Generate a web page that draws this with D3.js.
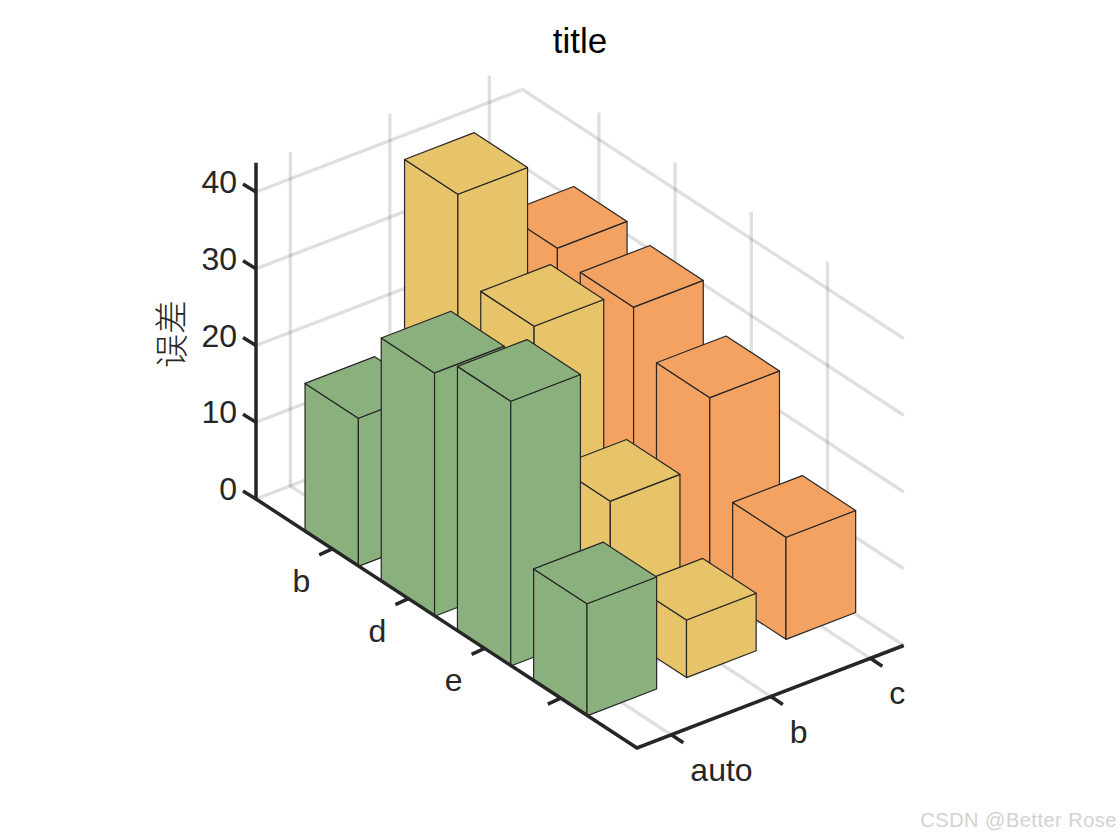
<!DOCTYPE html>
<html>
<head>
<meta charset="utf-8">
<script src="https://cdn.jsdelivr.net/npm/d3@7"></script>
<style>
  html, body { margin: 0; background: #fff; }
  text { font-family: "Liberation Sans", Arial, sans-serif; }
</style>
</head>
<body>
<div id="main-frame"></div>
<script>
const xLabels = ["auto", "b", "c"];
const yLabels = ["b", "d", "e", ""];
const zTicks = [0, 10, 20, 30, 40];

// one array per x category, front row last
const autoValues = [19.3, 31.7, 34.5, 14.6];
const bValues = [43.5, 32.8, 16.5, 7.5];
const cValues = [31.5, 30.3, 25, 13.3];
const seriesColors = ["#8AB17D", "#E7C469", "#F4A261"];

const barWidth = 0.7;
const xDomain = [0.655, 3.335];
const yDomain = [0, 5];
const zDomain = [0, 43.5];

const width = 1120;
const height = 840;
const inkColor = "#262626";

// oblique projection, each data axis moves the point in both screen directions
const xToH = d3.scaleLinear().domain(xDomain).range([0, 266.7]);
const xToV = d3.scaleLinear().domain(xDomain).range([0, -102.5]);
const yToH = d3.scaleLinear().domain(yDomain).range([0, 381]);
const yToV = d3.scaleLinear().domain(yDomain).range([0, 249]);
const zToV = d3.scaleLinear().domain([0, 40]).range([0, -307]);

const originX = 256;
const originY = 499;

const project = (x, y, z) => [
  originX + xToH(x) + yToH(y),
  originY + xToV(x) + yToV(y) + zToV(z)
];

const svg = d3.select("#main-frame")
  .append("svg")
  .attr("width", width)
  .attr("height", height);

const path = d3.line();

const drawLine = (parent, points, color, w, opacity) => parent.append("path")
  .attr("d", path(points))
  .attr("fill", "none")
  .attr("stroke", color)
  .attr("stroke-width", w)
  .attr("stroke-opacity", opacity);

// grid on the two back walls and the floor
const grid = svg.append("g").attr("class", "grid");
const gridColor = inkColor;
const gridAlpha = 0.15;
const gridWidth = 3.3;

zTicks.forEach(z => {
  drawLine(grid, [
    project(xDomain[0], 0, z),
    project(xDomain[1], 0, z),
    project(xDomain[1], yDomain[1], z)
  ], gridColor, gridWidth, gridAlpha);
});

[1, 2, 3].forEach(x => {
  drawLine(grid, [
    project(x, yDomain[1], 0),
    project(x, 0, 0),
    project(x, 0, zDomain[1])
  ], gridColor, gridWidth, gridAlpha);
});

[1, 2, 3, 4].forEach(y => {
  drawLine(grid, [
    project(xDomain[0], y, 0),
    project(xDomain[1], y, 0),
    project(xDomain[1], y, zDomain[1])
  ], gridColor, gridWidth, gridAlpha);
});

// bars, painted from the back to the front
const rows = [
  { x: 3, values: cValues, color: seriesColors[2] },
  { x: 2, values: bValues, color: seriesColors[1] },
  { x: 1, values: autoValues, color: seriesColors[0] }
];

const bars = svg.append("g").attr("class", "bars");
const half = barWidth / 2;

rows.forEach(row => {
  row.values.forEach((v, i) => {
    const y = i + 1;
    const x0 = row.x - half;
    const x1 = row.x + half;
    const y0 = y - half;
    const y1 = y + half;

    const faces = [
      [[x0, y0, 0], [x0, y1, 0], [x0, y1, v], [x0, y0, v]],
      [[x0, y1, 0], [x1, y1, 0], [x1, y1, v], [x0, y1, v]],
      [[x0, y0, v], [x0, y1, v], [x1, y1, v], [x1, y0, v]]
    ];

    faces.forEach(face => {
      bars.append("path")
        .attr("d", path(face.map(p => project(p[0], p[1], p[2]))) + "Z")
        .attr("fill", row.color)
        .attr("stroke", inkColor)
        .attr("stroke-width", 1.2)
        .attr("stroke-linejoin", "round");
    });
  });
});

// axes
const axes = svg.append("g").attr("class", "axes");
const axisWidth = 3.5;

drawLine(axes, [
  project(xDomain[0], 0, zDomain[1] + 0.3),
  project(xDomain[0], 0, 0),
  project(xDomain[0], yDomain[1], 0),
  project(xDomain[1], yDomain[1], 0)
], inkColor, axisWidth, 1).attr("stroke-linejoin", "miter");

const tickFont = 32;

zTicks.forEach(z => {
  const p = project(xDomain[0], 0, z);
  drawLine(axes, [p, [p[0] - 13, p[1] - 8]], inkColor, axisWidth, 1);
  axes.append("text")
    .attr("x", p[0] - 19)
    .attr("y", p[1] - 10)
    .attr("text-anchor", "end")
    .attr("dominant-baseline", "central")
    .attr("font-size", tickFont)
    .attr("fill", inkColor)
    .text(z);
});

yLabels.forEach((label, i) => {
  const p = project(xDomain[0], i + 1, 0);
  drawLine(axes, [p, [p[0] - 13, p[1] + 6]], inkColor, axisWidth, 1);
  axes.append("text")
    .attr("x", p[0] - 22)
    .attr("y", p[1] + 32)
    .attr("text-anchor", "end")
    .attr("dominant-baseline", "central")
    .attr("font-size", tickFont)
    .attr("fill", inkColor)
    .text(label);
});

xLabels.forEach((label, i) => {
  const p = project(i + 1, yDomain[1], 0);
  drawLine(axes, [p, [p[0] + 12, p[1] + 8]], inkColor, axisWidth, 1);
  axes.append("text")
    .attr("x", p[0] + 19)
    .attr("y", p[1] + 35)
    .attr("text-anchor", "start")
    .attr("dominant-baseline", "central")
    .attr("font-size", tickFont)
    .attr("fill", inkColor)
    .text(label);
});

svg.append("text")
  .attr("x", 580)
  .attr("y", 40)
  .attr("text-anchor", "middle")
  .attr("dominant-baseline", "central")
  .attr("font-size", 35)
  .attr("fill", "#000")
  .text("title");

svg.append("text")
  .attr("transform", "translate(169, 334) rotate(-90)")
  .attr("text-anchor", "middle")
  .attr("dominant-baseline", "central")
  .attr("font-size", 34)
  .attr("font-weight", 300)
  .attr("fill", inkColor)
  .style("font-family", "'Noto Sans CJK SC', sans-serif")
  .text("误差");

svg.append("text")
  .attr("x", 1117)
  .attr("y", 820)
  .attr("text-anchor", "end")
  .attr("dominant-baseline", "central")
  .attr("font-size", 20)
  .attr("letter-spacing", 0.5)
  .attr("fill", "#d2d2d2")
  .text("CSDN @Better Rose");
</script>
</body>
</html>
